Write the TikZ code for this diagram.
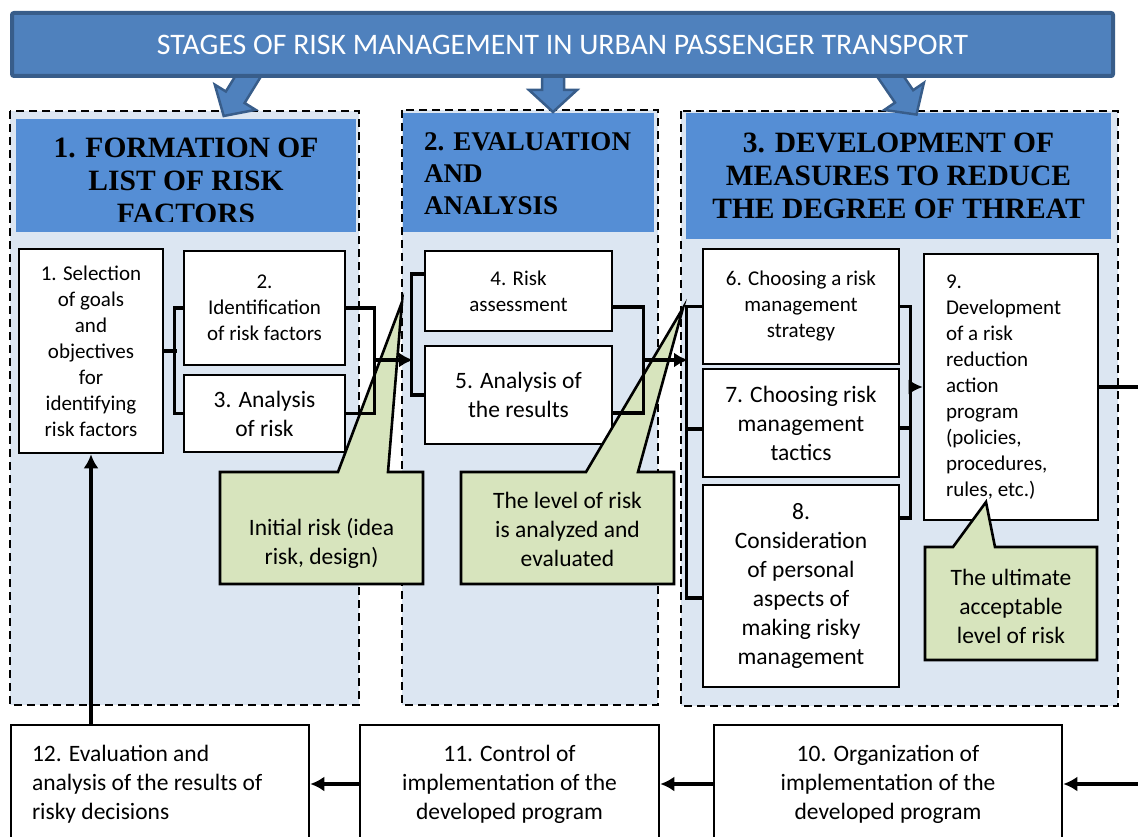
\documentclass[tikz,border=0pt]{standalone}
\usepackage{fontspec}
\setmainfont{Carlito}
\newfontfamily\headfont{Liberation Serif}
\usetikzlibrary{arrows.meta}

\definecolor{titleblue}{HTML}{4F81BD}
\definecolor{titleedge}{HTML}{385D8A}
\definecolor{headblue}{HTML}{558ED5}
\definecolor{panelblue}{HTML}{DCE6F2}
\definecolor{notegreen}{HTML}{D7E4BD}

\newcommand{\smalltxt}{\fontsize{21}{26}\selectfont}
\newcommand{\bigtxt}{\fontsize{23.5}{29}\selectfont}
% block arrow: start, angle, length
\newcommand{\blockarrow}[3]{%
  \draw[bigarrow, shift={#1}, rotate=#2] (0,-11) -- (#3-22,-11) -- (#3-22,-24)
    -- (#3,0) -- (#3-22,24) -- (#3-22,11) -- (0,11) -- cycle;}

\tikzset{
  stagebox/.style={draw, fill=white, line width=2.6pt, inner sep=0pt, align=center, font=\smalltxt},
  notetext/.style={inner sep=0pt, align=center, font=\bigtxt},
  note/.style={draw, fill=notegreen, line width=2.6pt},
  panel/.style={draw, fill=panelblue, line width=2pt, dash pattern=on 8pt off 5pt},
  head/.style={inner sep=0pt, font=\headfont\bfseries\fontsize{29.5}{33}\selectfont},
  bigarrow/.style={draw=titleedge, fill=titleblue, line width=2.5pt},
  link/.style={line width=3.4pt},
  flow/.style={line width=3.4pt, -{Latex[length=14pt,width=15pt]}}
}

\begin{document}
\begin{tikzpicture}[x=1pt, y=-1pt]
    \useasboundingbox (0,0) rectangle (1138,837);

    % Stage panels
    \draw[panel] (10,111) rectangle (359,705);
    \draw[panel] (402,110) rectangle (658,705);
    \draw[panel] (681,111) rectangle (1118,706);

    % Stage headers
    \fill[headblue] (16,119) rectangle (356,232);
    \fill[headblue] (403,113) rectangle (654,232);
    \fill[headblue] (686,113) rectangle (1111,239);
    \begin{scope}
        \clip (16,119) rectangle (356,222);
        \node[head, align=center] (h1) at (186,181) {1. FORMATION OF\\LIST OF RISK\\FACTORS};
    \end{scope}
    \node[head, align=left, anchor=west, font=\headfont\bfseries\fontsize{27}{32}\selectfont]
        (h2) at (424,174) {2. EVALUATION\\AND\\ANALYSIS};
    \node[head, align=center] (h3) at (898.5,176) {3. DEVELOPMENT OF\\MEASURES TO REDUCE\\THE DEGREE OF THREAT};

    % Arrows from the title
    \blockarrow{(252,70)}{-121.6}{54}
    \blockarrow{(553,70)}{-90}{42}
    \blockarrow{(886,70)}{-55.6}{54}

    % Title
    \node[draw=titleedge, fill=titleblue, line width=4pt, rounded corners=2pt,
          minimum width=1101, minimum height=63, text=white,
          font=\fontsize{29.8}{34}\selectfont] (title) at (562.5,44.5)
          {STAGES OF RISK MANAGEMENT IN URBAN PASSENGER TRANSPORT};

    % Stage 1
    \node[stagebox, minimum width=144, minimum height=204] (b1) at (91,351)
        {1. Selection\\of goals\\and\\objectives\\for\\identifying\\risk factors};
    \node[stagebox, minimum width=161, minimum height=114] (b2) at (264.5,308)
        {2.\\Identification\\of risk factors};
    \node[stagebox, minimum width=161, minimum height=77, font=\bigtxt] (b3) at (264.5,413.5)
        {3. Analysis\\of risk};
    % Stage 2
    \node[stagebox, minimum width=187, minimum height=80] (b4) at (518.5,291)
        {4. Risk\\assessment};
    \node[stagebox, minimum width=187, minimum height=98, font=\bigtxt] (b5) at (518.5,395)
        {5. Analysis of\\the results};
    % Stage 3
    \node[stagebox, minimum width=196, minimum height=115] (b6) at (801,306.5)
        {6. Choosing a risk\\management\\strategy};
    \node[stagebox, minimum width=196, minimum height=108, font=\bigtxt] (b7) at (801,423)
        {7. Choosing risk\\management\\tactics};
    \node[stagebox, minimum width=196, minimum height=202, font=\bigtxt] (b8) at (801,586)
        {8.\\Consideration\\of personal\\aspects of\\making risky\\management};
    \node[stagebox, minimum width=174, minimum height=266, align=flush left, text width=130] (b9) at (1011,387)
        {9.\\Development\\of a risk\\reduction\\action\\program\\(policies,\\procedures,\\rules, etc.)};

    % Bottom row
    \node[stagebox, minimum width=298, minimum height=118, font=\bigtxt, align=flush left, text width=256] (b12) at (160,784)
        {12. Evaluation and\\analysis of the results of\\risky decisions};
    \node[stagebox, minimum width=299, minimum height=118, font=\bigtxt] (b11) at (509.5,784)
        {11. Control of\\implementation of the\\developed program};
    \node[stagebox, minimum width=348, minimum height=118, font=\bigtxt] (b10) at (888,784)
        {10. Organization of\\implementation of the\\developed program};

    % Callouts
    \filldraw[note] (220,472) -- (338,472) -- (402,302) -- (388,472) -- (423,472)
        -- (423,584) -- (220,584) -- cycle;
    \node[notetext] (c1) at (321.5,543) {Initial risk (idea\\risk, design)};
    \filldraw[note] (461,472) -- (586,472) -- (683,308) -- (638,472) -- (674,472)
        -- (674,584) -- (461,584) -- cycle;
    \node[notetext] (c2) at (567.5,529) {The level of risk\\is analyzed and\\evaluated};
    \filldraw[note] (925,547) -- (953,547) -- (986,502) -- (995,547) -- (1097,547)
        -- (1097,660) -- (925,660) -- cycle;
    \node[notetext] (c3) at (1011,606) {The ultimate\\acceptable\\level of risk};

    % Brackets, stage 1
    \draw[link] (b1.east) -- ++(13,0);
    \draw[link] (b2.west) -- ++(-8,0) |- (b3.west);
    \draw[link] (b2.east) -- ++(28,0) |- (b3.east);
    \coordinate (j1) at (373,360);
    \coordinate (j2) at (413,360);
    \draw[flow] (j1) -- (j2);
    % Brackets, stage 2
    \draw[link] ([yshift=17pt]b4.west) -- ++(-12,0) |- (b5.west);
    \draw[link] ([yshift=-16pt]b4.east) -- ++(30,0) |- ([yshift=-18pt]b5.east);
    \coordinate (j3) at (642,360);
    \coordinate (j4) at (688,360);
    \draw[flow] (j3) -- (j4);
    % Brackets, stage 3
    \draw[link] (b6.west) -- ++(-15,0) |- ([yshift=-12pt]b8.west);
    \draw[link] ([yshift=-6pt]b7.west) -- ++(-15,0);
    \draw[link] (b6.east) -- ++(10,0) |- ([yshift=68pt]b8.east);
    \draw[link] ([yshift=-5pt]b7.east) -- ++(10,0);
    \coordinate (j5) at (909,387);
    \draw[flow] (j5) -- (b9.west);

    % Implementation loop
    \draw[flow] (b9.east) -- ++(52,0) |- (b10.east);
    \draw[flow] (b10.west) -- (b11.east);
    \draw[flow] (b11.west) -- (b12.east);
    \draw[flow] (b12.north -| b1.south) -- (b1.south);
\end{tikzpicture}
\end{document}
